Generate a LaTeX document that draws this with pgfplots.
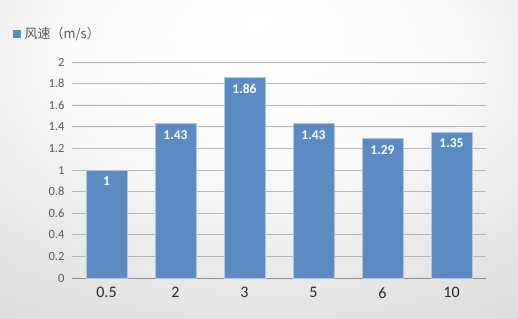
\documentclass[border=0pt]{standalone}
\usepackage{fontspec}
\setmainfont{Carlito}
\newfontfamily\cjk{Noto Sans CJK SC}
\usepackage{pgfplots}
\pgfplotsset{compat=1.18}
\definecolor{barc}{RGB}{92,139,196}
\definecolor{gridc}{RGB}{180,180,180}
\definecolor{axc}{RGB}{140,140,140}
\definecolor{labc}{RGB}{89,89,89}
\pgfdeclareradialshading{bg}{\pgfpoint{0bp}{22bp}}{color(0bp)=(white); color(18bp)=(white!96!gray); color(48bp)=(gray!33); color(75bp)=(gray!40)}
\begin{document}
\begin{tikzpicture}[x=1bp,y=1bp]
\path[use as bounding box] (0,0) rectangle (518,318);
\shade[shading=bg] (0,0) rectangle (518,318);
\begin{axis}[at={(72bp,40bp)}, anchor=south west, scale only axis,
  width=414bp, height=216bp,
  xmin=-0.5, xmax=5.5, ymin=0, ymax=2,
  ybar, bar width=41bp,
  ytick={0,0.2,0.4,0.6,0.8,1,1.2,1.4,1.6,1.8,2},
  xtick=data, xticklabels={0.5,2,3,5,6,10},
  major tick length=0pt,
  ymajorgrids, grid style={gridc, line width=0.8bp},
  axis x line=bottom, axis y line=left,
  y axis line style={draw=none},
  x axis line style={axc, line width=0.8bp, -},
  /pgf/number format/assume math mode=true,
  yticklabel style={font=\fontsize{12.5bp}{12.5bp}\selectfont, text=labc, anchor=east, xshift=-4bp},
  xticklabel style={font=\fontsize{16bp}{16bp}\selectfont, text=black!85, anchor=north, yshift=-6bp},
  nodes near coords,
  nodes near coords style={anchor=north, yshift=-3bp, text=white, font=\bfseries\fontsize{13.5bp}{13.5bp}\selectfont, /pgf/number format/assume math mode=true},
  legend style={at={(-0.142,1.13)}, anchor=west, draw=none, fill=none, inner sep=0pt,
    font=\cjk\fontsize{13bp}{13bp}\selectfont, text=labc},
  legend image code/.code={\fill[barc] (0bp,-3.5bp) rectangle (7bp,3.5bp);},
  clip=false,
]
\addplot[fill=barc, draw=barc!50!white, line width=0.7bp] coordinates {(0,1) (1,1.43) (2,1.86) (3,1.43) (4,1.29) (5,1.35)};
\addlegendentry{\hspace{1.5bp}风速（m/s）}
\end{axis}
\end{tikzpicture}
\end{document}
